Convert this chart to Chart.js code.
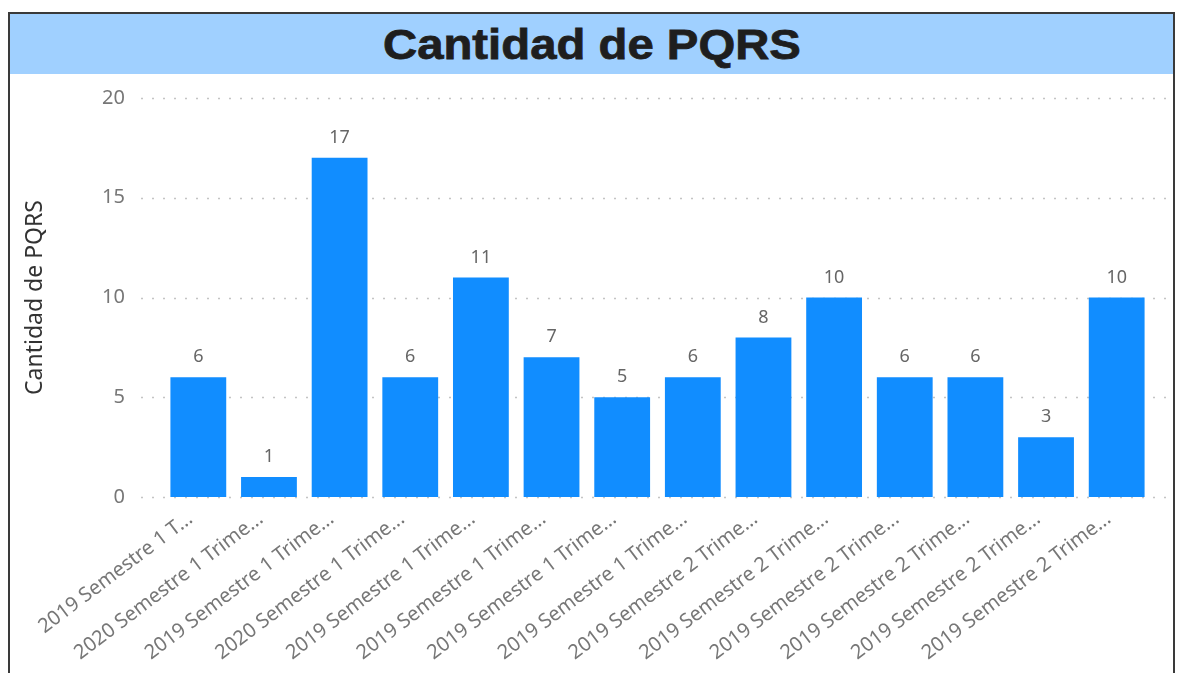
<!DOCTYPE html>
<html>
<head>
<meta charset="utf-8">
<script src="https://cdn.jsdelivr.net/npm/chart.js@4/dist/chart.umd.min.js"></script>
<style>
  html, body { margin: 0; padding: 0; background: #fff; width: 1179px; height: 673px; overflow: hidden; }
  #marco {
    position: absolute; left: 8px; top: 12px; width: 1167px; height: 700px;
    border: 2px solid #3a3a3a; border-bottom: none; box-sizing: border-box;
  }
  #titulo {
    position: absolute; left: 0; top: 0; right: 0; height: 60px;
    background: #a0d0ff; text-align: center;
    font-family: "Liberation Sans", Arial, sans-serif; font-weight: bold;
    font-size: 43px; line-height: 60px; color: #1e1e1e;
    -webkit-text-stroke: 0.8px #1e1e1e;
  }
  #titulo span { display: inline-block; transform: scaleX(1.1); }
  #lienzo { position: absolute; left: 10px; top: 72px; width: 1165px; height: 601px; }
</style>
</head>
<body>
<div id="marco"><div id="titulo"><span>Cantidad de PQRS</span></div></div>
<div id="lienzo"><canvas id="grafico"></canvas></div>
<script>
// Etiquetas de periodo (tal como se ven en el eje)
const periodos = [
  '2019 Semestre 1 T...',
  '2020 Semestre 1 Trime...',
  '2019 Semestre 1 Trime...',
  '2020 Semestre 1 Trime...',
  '2019 Semestre 1 Trime...',
  '2019 Semestre 1 Trime...',
  '2019 Semestre 1 Trime...',
  '2019 Semestre 1 Trime...',
  '2019 Semestre 2 Trime...',
  '2019 Semestre 2 Trime...',
  '2019 Semestre 2 Trime...',
  '2019 Semestre 2 Trime...',
  '2019 Semestre 2 Trime...',
  '2019 Semestre 2 Trime...'
];
const cantidadPQRS = [6, 1, 17, 6, 11, 7, 5, 6, 8, 10, 6, 6, 3, 10];
const ticksY = [0, 5, 10, 15, 20];

const fuente = '"Noto Sans", "Open Sans", sans-serif';

// Lineas punteadas de la cuadricula (mas anchas que el area del grafico)
const cuadricula = {
  id: 'cuadricula',
  beforeDatasetsDraw(chart) {
    const ctx = chart.ctx;
    const y = chart.scales.y;
    const area = chart.chartArea;
    ctx.save();
    ctx.strokeStyle = '#c4c4c4';
    ctx.lineWidth = 1.5;
    ctx.setLineDash([2, 9]);
    ticksY.forEach(v => {
      const py = Math.round(y.getPixelForValue(v)) + 0.5;
      ctx.beginPath();
      ctx.moveTo(area.left - 22, py);
      ctx.lineTo(area.right + 19, py);
      ctx.stroke();
    });
    ctx.restore();
  }
};

// Etiquetas de valor encima de cada barra
const etiquetas = {
  id: 'etiquetas',
  afterDatasetsDraw(chart) {
    const ctx = chart.ctx;
    const meta = chart.getDatasetMeta(0);
    ctx.save();
    ctx.fillStyle = '#666';
    ctx.font = '18px ' + fuente;
    ctx.textAlign = 'center';
    ctx.textBaseline = 'bottom';
    meta.data.forEach((barra, i) => {
      ctx.fillText(cantidadPQRS[i], barra.x, barra.y - 11);
    });
    ctx.restore();
  }
};

new Chart(document.getElementById('grafico'), {
  type: 'bar',
  data: {
    labels: periodos,
    datasets: [{
      label: 'Cantidad de PQRS',
      data: cantidadPQRS,
      backgroundColor: '#118dff',
      barPercentage: 0.79,
      categoryPercentage: 1
    }]
  },
  options: {
    responsive: true,
    maintainAspectRatio: false,
    animation: false,
    layout: { padding: { left: 10, top: 26, right: 23, bottom: 0 } },
    plugins: { legend: { display: false }, tooltip: { enabled: false } },
    scales: {
      y: {
        min: 0, max: 20,
        afterBuildTicks: s => { s.ticks = ticksY.map(v => ({ value: v })); },
        afterFit: s => { s.width = 143; s.paddingTop = 0; s.paddingBottom = 0; },
        grid: { display: false, drawTicks: false },
        border: { display: false },
        ticks: { color: '#777', font: { family: fuente, size: 20 }, padding: 38 },
        title: {
          display: true, text: 'Cantidad de PQRS', color: '#333',
          font: { family: fuente, size: 23 }, padding: { top: 2, bottom: 0 }
        }
      },
      x: {
        afterFit: s => { s.height = 176; },
        grid: { display: false, drawTicks: false },
        border: { display: false },
        ticks: {
          color: '#777', font: { family: fuente, size: 20 },
          minRotation: 37, maxRotation: 37, autoSkip: false,
          padding: 10, labelOffset: -8
        }
      }
    }
  },
  plugins: [cuadricula, etiquetas]
});
</script>
</body>
</html>
